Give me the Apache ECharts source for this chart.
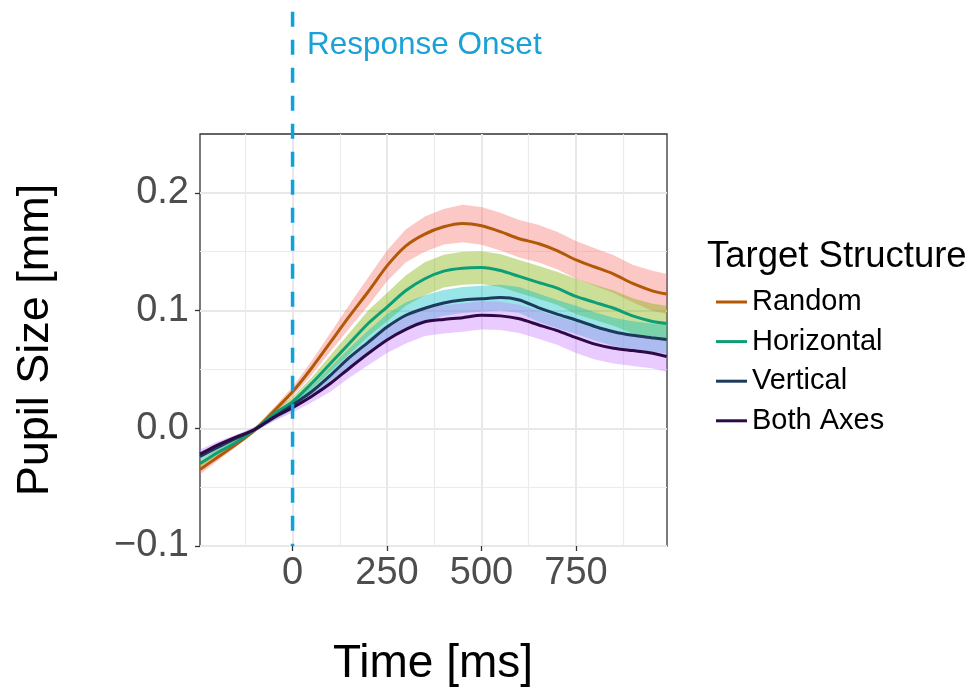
<!DOCTYPE html>
<html>
<head>
<meta charset="utf-8">
<script src="https://cdn.jsdelivr.net/npm/echarts@6/dist/echarts.min.js"></script>
<style>
html,body{margin:0;padding:0;background:#fff;}
#chart{width:971px;height:691px;}
</style>
</head>
<body>
<div id="chart"></div>
<script>
// ---- data ----
const times = [-245,-200,-150,-100,-50,0,50,100,150,200,250,300,350,400,450,500,550,600,650,700,750,800,850,900,950,990];
const seriesNames = ['Random','Horizontal','Vertical','Both Axes'];
const randomMean = [-0.035,-0.025,-0.0139,-0.0015,0.0145,0.031,0.051,0.073,0.095,0.116,0.138,0.155,0.165,0.1712,0.174,0.172,0.167,0.161,0.157,0.151,0.143,0.137,0.131,0.123,0.117,0.114];
const horizontalMean = [-0.030,-0.021,-0.012,-0.001,0.012,0.0226,0.038,0.055,0.072,0.089,0.103,0.117,0.127,0.1335,0.136,0.1365,0.134,0.129,0.124,0.119,0.112,0.107,0.102,0.0955,0.091,0.089];
const verticalMean = [-0.024,-0.0165,-0.0085,-0.001,0.0095,0.0198,0.031,0.045,0.060,0.073,0.086,0.096,0.102,0.1065,0.109,0.110,0.111,0.109,0.1025,0.097,0.092,0.0865,0.082,0.079,0.077,0.0755];
const bothMean = [-0.022,-0.0145,-0.0075,-0.001,0.009,0.0175,0.027,0.038,0.051,0.0635,0.075,0.084,0.0905,0.0925,0.094,0.096,0.0955,0.093,0.088,0.083,0.077,0.0715,0.068,0.066,0.064,0.061];
const randomSe = [0.004,0.003,0.002,0.002,0.003,0.004,0.006,0.008,0.010,0.012,0.013,0.014,0.015,0.015,0.016,0.016,0.016,0.016,0.016,0.016,0.016,0.016,0.016,0.016,0.017,0.017];
const horizontalSe = [0.003,0.003,0.002,0.002,0.003,0.004,0.005,0.007,0.009,0.011,0.012,0.013,0.014,0.014,0.014,0.014,0.014,0.014,0.014,0.014,0.015,0.015,0.015,0.015,0.015,0.015];
const verticalSe = [0.003,0.003,0.002,0.002,0.003,0.004,0.005,0.007,0.008,0.010,0.011,0.011,0.011,0.011,0.011,0.011,0.011,0.011,0.012,0.012,0.012,0.012,0.012,0.012,0.012,0.012];
const bothSe = [0.004,0.003,0.002,0.002,0.003,0.004,0.005,0.007,0.008,0.010,0.011,0.012,0.012,0.012,0.012,0.012,0.012,0.012,0.012,0.012,0.013,0.013,0.013,0.013,0.013,0.013];
const xTicks = [0,250,500,750];
const xMinorTicks = [-125,125,375,625,875];
const yTicks = [-0.1,0,0.1,0.2];
const yTickLabels = ['\u22120.1','0.0','0.1','0.2'];
const yMinorTicks = [-0.05,0.05,0.15];
const onsetTime = 0;

// ---- styles ----
const FONT = '"Liberation Sans", Arial, Helvetica, sans-serif';
const lineColors = ['#B35806','#0E9E77','#1D3A5C','#2D0A45'];
const bandColors = ['rgba(248,118,109,0.4)','rgba(124,174,0,0.4)','rgba(0,191,196,0.4)','rgba(199,124,255,0.4)'];
const means = [randomMean, horizontalMean, verticalMean, bothMean];
const ses = [randomSe, horizontalSe, verticalSe, bothSe];

const chart = echarts.init(document.getElementById('chart'), null, {renderer:'canvas'});

function ribbon(i){
  return {
    type:'custom', name: seriesNames[i]+' band', silent:true, z:1,
    xAxisIndex:0, yAxisIndex:0, data:[0],
    renderItem: function(params, api){
      const m = means[i], s = ses[i];
      const upper = times.map((t,k)=>api.coord([t, m[k]+s[k]]));
      const lower = times.map((t,k)=>api.coord([t, m[k]-s[k]])).reverse();
      return {type:'polygon', shape:{points: upper.concat(lower)}, style:{fill: bandColors[i], stroke:null}};
    }
  };
}
function line(i){
  return {
    type:'line', name: seriesNames[i], z:3, xAxisIndex:0, yAxisIndex:0,
    data: times.map((t,k)=>[t, means[i][k]]),
    showSymbol:false, symbol:'none', smooth:0.25,
    color: lineColors[i],
    lineStyle:{color: lineColors[i], width:3},
    itemStyle:{color: lineColors[i]}
  };
}

const option = {
  animation:false,
  grid:{left:200, top:134, width:467, height:412, show:true, borderColor:'#333333', borderWidth:1.3, backgroundColor:'#fff', containLabel:false},
  xAxis:[
    {type:'value', min:-245, max:991, position:'bottom',
     axisLine:{show:false, onZero:false},
     axisTick:{show:true, inside:false, length:5, customValues:xTicks, lineStyle:{color:'#333333', width:1.3}},
     axisLabel:{customValues:xTicks, fontSize:38, color:'#4D4D4D', fontFamily:FONT, margin:9},
     splitLine:{show:true, lineStyle:{color:'#E8E8E8', width:2}}},
    {type:'value', min:-245, max:991, position:'bottom',
     axisLine:{show:false, onZero:false},
     axisTick:{show:false, customValues:xMinorTicks},
     axisLabel:{show:false, customValues:xMinorTicks},
     splitLine:{show:true, lineStyle:{color:'#EBEBEB', width:1.2}}}
  ],
  yAxis:[
    {type:'value', min:-0.1, max:0.25, position:'left',
     axisLine:{show:false, onZero:false},
     axisTick:{show:true, inside:false, length:5, customValues:yTicks, lineStyle:{color:'#333333', width:1.3}},
     axisLabel:{customValues:yTicks, fontSize:38, color:'#4D4D4D', fontFamily:FONT, margin:11,
       formatter:function(v){ const k = yTicks.findIndex(t=>Math.abs(t-v)<1e-9); return k>=0 ? yTickLabels[k] : ''; }},
     splitLine:{show:true, lineStyle:{color:'#E8E8E8', width:2}}},
    {type:'value', min:-0.1, max:0.25, position:'left',
     axisLine:{show:false, onZero:false},
     axisTick:{show:false, customValues:yMinorTicks},
     axisLabel:{show:false, customValues:yMinorTicks},
     splitLine:{show:true, lineStyle:{color:'#EBEBEB', width:1.2}}}
  ],
  legend:{
    orient:'vertical', left:711, top:282, itemWidth:31, itemHeight:3, itemGap:9.6, icon:'rect',
    data: seriesNames,
    textStyle:{fontSize:29, color:'#000', fontFamily:FONT, lineHeight:30, padding:[0,0,0,0]},
    selectedMode:false
  },
  series:[ribbon(0),ribbon(1),ribbon(2),ribbon(3),line(0),line(1),line(2),line(3)],
  graphic:[
    {type:'text', id:'xtitle', x:433, y:664, style:{text:'Time [ms]', font:'46px '+FONT, fill:'#000', align:'center', verticalAlign:'middle'}},
    {type:'text', id:'ytitle', x:36, y:340, rotation:Math.PI/2, style:{text:'Pupil Size [mm]', font:'45px '+FONT, fill:'#000', align:'center', verticalAlign:'middle'}},
    {type:'text', id:'legtitle', x:707, y:257, style:{text:'Target Structure', font:'36.5px '+FONT, fill:'#000', align:'left', verticalAlign:'middle'}},
    {type:'text', id:'onsettext', x:307, y:45, style:{text:'Response Onset', font:'31.5px '+FONT, fill:'#1AA1D6', align:'left', verticalAlign:'middle'}}
  ]
};
chart.setOption(option);

const x0 = chart.convertToPixel({xAxisIndex:0}, onsetTime);
const yBottom = chart.convertToPixel({yAxisIndex:0}, -0.1);
chart.setOption({graphic:[
  {type:'line', id:'onset', z:100, shape:{x1:x0, y1:11.7, x2:x0, y2:yBottom},
   style:{stroke:'#0EA2DA', lineWidth:3.5, lineDash:[15,13]}}
]});
</script>
</body>
</html>
